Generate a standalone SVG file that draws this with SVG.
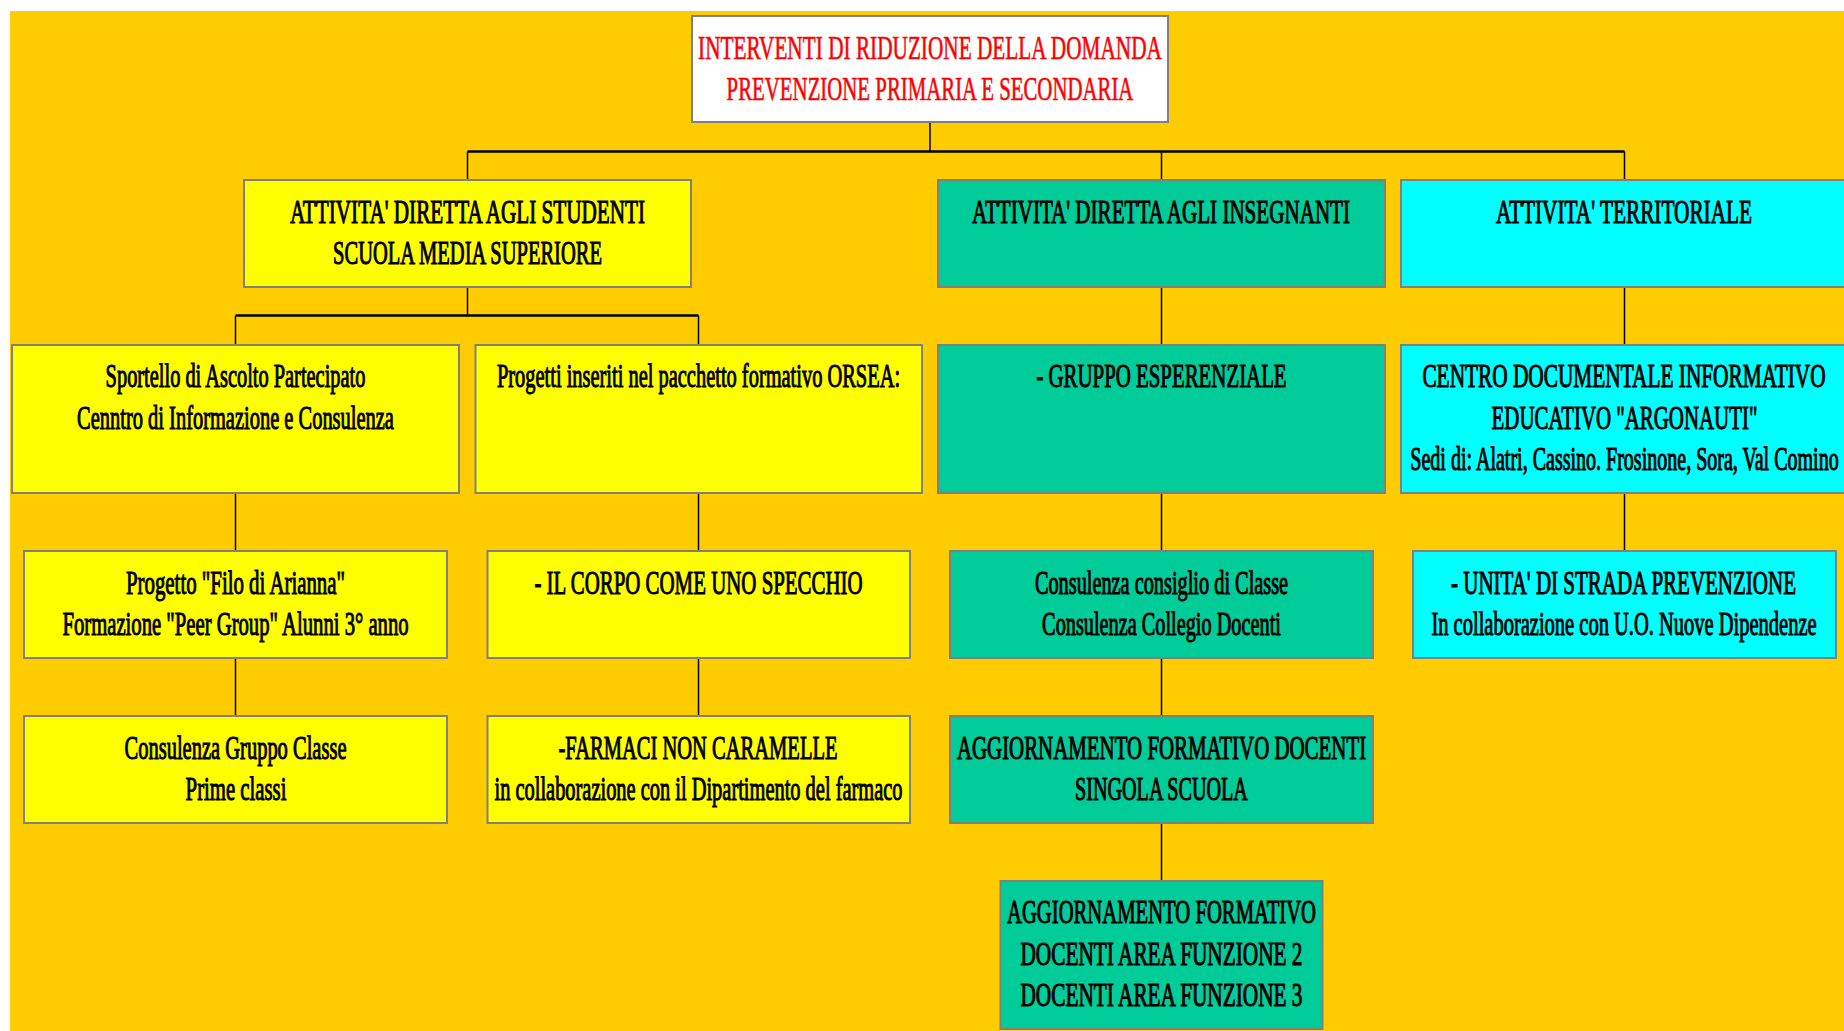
<svg xmlns="http://www.w3.org/2000/svg" width="1844" height="1031" viewBox="0 0 1844 1031">
<style>
.box{stroke:#808080;stroke-width:2}
.w{fill:#ffffff}
.y{fill:#ffff00}
.g{fill:#00cc99}
.c{fill:#00ffff}
.t{font-family:"Liberation Serif","Times New Roman",serif;font-size:34px;font-weight:normal;fill:#000000;stroke:#000000;stroke-width:1.1;text-anchor:middle}
.r{fill:#ff0000;stroke:#ff0000;stroke-width:0.6}
.ln{stroke:#000000;stroke-width:1.5;fill:none}
.hl{stroke:#000000;stroke-width:2.5;fill:none}
</style>
<rect x="10" y="11" width="1834" height="1020" fill="#ffcc00"/>
<g id="connectors">
<line class="ln" x1="930" y1="122" x2="930" y2="151.5"/>
<line class="hl" x1="467.5" y1="151.5" x2="1624.5" y2="151.5"/>
<line class="ln" x1="467.5" y1="151.5" x2="467.5" y2="180"/>
<line class="ln" x1="1161.5" y1="151.5" x2="1161.5" y2="180"/>
<line class="ln" x1="1624.5" y1="151.5" x2="1624.5" y2="180"/>
<line class="ln" x1="467.5" y1="287" x2="467.5" y2="315.5"/>
<line class="hl" x1="235.5" y1="315.5" x2="698.5" y2="315.5"/>
<line class="ln" x1="235.5" y1="315.5" x2="235.5" y2="345"/>
<line class="ln" x1="698.5" y1="315.5" x2="698.5" y2="345"/>
<line class="ln" x1="1161.5" y1="287" x2="1161.5" y2="345"/>
<line class="ln" x1="1624.5" y1="287" x2="1624.5" y2="345"/>
<line class="ln" x1="235.5" y1="493" x2="235.5" y2="551"/>
<line class="ln" x1="698.5" y1="493" x2="698.5" y2="551"/>
<line class="ln" x1="1161.5" y1="493" x2="1161.5" y2="551"/>
<line class="ln" x1="1624.5" y1="493" x2="1624.5" y2="551"/>
<line class="ln" x1="235.5" y1="658" x2="235.5" y2="716"/>
<line class="ln" x1="698.5" y1="658" x2="698.5" y2="716"/>
<line class="ln" x1="1161.5" y1="658" x2="1161.5" y2="716"/>
<line class="ln" x1="1161.5" y1="823" x2="1161.5" y2="881"/>
</g>
<g id="root">
<rect class="box w" x="692" y="16" width="476" height="106"/>
<text class="t r" transform="translate(930,58.5) scale(0.6,1)" textLength="773" lengthAdjust="spacingAndGlyphs">INTERVENTI DI RIDUZIONE DELLA DOMANDA</text>
<text class="t r" transform="translate(930,100) scale(0.6,1)" textLength="678" lengthAdjust="spacingAndGlyphs">PREVENZIONE PRIMARIA E SECONDARIA</text>
</g>
<g id="studenti">
<rect class="box y" x="244" y="180" width="447" height="107"/>
<text class="t" transform="translate(467.5,222.5) scale(0.6,1)" textLength="592" lengthAdjust="spacingAndGlyphs">ATTIVITA' DIRETTA AGLI STUDENTI</text>
<text class="t" transform="translate(467.5,263.5) scale(0.6,1)" textLength="448" lengthAdjust="spacingAndGlyphs">SCUOLA MEDIA SUPERIORE</text>
</g>
<g id="insegnanti">
<rect class="box g" x="938" y="180" width="447" height="107"/>
<text class="t" transform="translate(1161,222.5) scale(0.6,1)" textLength="630" lengthAdjust="spacingAndGlyphs">ATTIVITA' DIRETTA AGLI INSEGNANTI</text>
</g>
<g id="territoriale">
<rect class="box c" x="1401" y="180" width="450" height="107"/>
<text class="t" transform="translate(1624,222.5) scale(0.6,1)" textLength="427" lengthAdjust="spacingAndGlyphs">ATTIVITA' TERRITORIALE</text>
</g>
<g id="sportello">
<rect class="box y" x="12" y="345" width="447" height="148"/>
<text class="t" transform="translate(235.5,387) scale(0.6,1)" textLength="433" lengthAdjust="spacingAndGlyphs">Sportello di Ascolto Partecipato</text>
<text class="t" transform="translate(235.5,428.5) scale(0.6,1)" textLength="528" lengthAdjust="spacingAndGlyphs">Cenntro di Informazione e Consulenza</text>
</g>
<g id="progetti">
<rect class="box y" x="475.5" y="345" width="446.5" height="148"/>
<text class="t" transform="translate(698.5,387) scale(0.6,1)" textLength="672" lengthAdjust="spacingAndGlyphs">Progetti inseriti nel pacchetto formativo ORSEA:</text>
</g>
<g id="gruppo">
<rect class="box g" x="938" y="345" width="447" height="148"/>
<text class="t" transform="translate(1161.5,387) scale(0.6,1)" textLength="417" lengthAdjust="spacingAndGlyphs">- GRUPPO ESPERENZIALE</text>
</g>
<g id="centro">
<rect class="box c" x="1401" y="345" width="450" height="148"/>
<text class="t" transform="translate(1624,387) scale(0.6,1)" textLength="672" lengthAdjust="spacingAndGlyphs">CENTRO DOCUMENTALE INFORMATIVO</text>
<text class="t" transform="translate(1624.5,428.5) scale(0.6,1)" textLength="443" lengthAdjust="spacingAndGlyphs">EDUCATIVO "ARGONAUTI"</text>
<text class="t" transform="translate(1624.5,470) scale(0.6,1)" textLength="714" lengthAdjust="spacingAndGlyphs">Sedi di: Alatri, Cassino. Frosinone, Sora, Val Comino</text>
</g>
<g id="filo">
<rect class="box y" x="24" y="551" width="423" height="107"/>
<text class="t" transform="translate(235.5,593.5) scale(0.6,1)" textLength="365" lengthAdjust="spacingAndGlyphs">Progetto "Filo di Arianna"</text>
<text class="t" transform="translate(235.5,634.5) scale(0.6,1)" textLength="577" lengthAdjust="spacingAndGlyphs">Formazione "Peer Group" Alunni 3° anno</text>
</g>
<g id="corpo">
<rect class="box y" x="487.5" y="551" width="422.5" height="107"/>
<text class="t" transform="translate(698.5,593.5) scale(0.6,1)" textLength="547" lengthAdjust="spacingAndGlyphs">- IL CORPO COME UNO SPECCHIO</text>
</g>
<g id="consiglio">
<rect class="box g" x="950" y="551" width="423" height="107"/>
<text class="t" transform="translate(1161.5,593.5) scale(0.6,1)" textLength="422" lengthAdjust="spacingAndGlyphs">Consulenza consiglio di Classe</text>
<text class="t" transform="translate(1161.5,634.5) scale(0.6,1)" textLength="398" lengthAdjust="spacingAndGlyphs">Consulenza Collegio Docenti</text>
</g>
<g id="unita">
<rect class="box c" x="1413" y="551" width="423" height="107"/>
<text class="t" transform="translate(1623.5,593.5) scale(0.6,1)" textLength="575" lengthAdjust="spacingAndGlyphs">- UNITA' DI STRADA PREVENZIONE</text>
<text class="t" transform="translate(1624,634.5) scale(0.6,1)" textLength="642" lengthAdjust="spacingAndGlyphs">In collaborazione con U.O. Nuove Dipendenze</text>
</g>
<g id="classe">
<rect class="box y" x="24" y="716" width="423" height="107"/>
<text class="t" transform="translate(235.5,758.5) scale(0.6,1)" textLength="370" lengthAdjust="spacingAndGlyphs">Consulenza Gruppo Classe</text>
<text class="t" transform="translate(236,799.5) scale(0.6,1)" textLength="168" lengthAdjust="spacingAndGlyphs">Prime classi</text>
</g>
<g id="farmaci">
<rect class="box y" x="487.5" y="716" width="422.5" height="107"/>
<text class="t" transform="translate(698,758.5) scale(0.6,1)" textLength="465" lengthAdjust="spacingAndGlyphs">-FARMACI NON CARAMELLE</text>
<text class="t" transform="translate(698.5,799.5) scale(0.6,1)" textLength="680" lengthAdjust="spacingAndGlyphs">in collaborazione con il Dipartimento del farmaco</text>
</g>
<g id="aggiornamento">
<rect class="box g" x="950" y="716" width="423" height="107"/>
<text class="t" transform="translate(1161.5,758.5) scale(0.6,1)" textLength="682" lengthAdjust="spacingAndGlyphs">AGGIORNAMENTO FORMATIVO DOCENTI</text>
<text class="t" transform="translate(1161.5,799.5) scale(0.6,1)" textLength="288" lengthAdjust="spacingAndGlyphs">SINGOLA SCUOLA</text>
</g>
<g id="funzione">
<rect class="box g" x="1000.5" y="881" width="322" height="148"/>
<text class="t" transform="translate(1161.5,923) scale(0.6,1)" textLength="515" lengthAdjust="spacingAndGlyphs">AGGIORNAMENTO FORMATIVO</text>
<text class="t" transform="translate(1161.5,964.5) scale(0.6,1)" textLength="470" lengthAdjust="spacingAndGlyphs">DOCENTI AREA FUNZIONE 2</text>
<text class="t" transform="translate(1161.5,1005.5) scale(0.6,1)" textLength="470" lengthAdjust="spacingAndGlyphs">DOCENTI AREA FUNZIONE 3</text>
</g>
</svg>
